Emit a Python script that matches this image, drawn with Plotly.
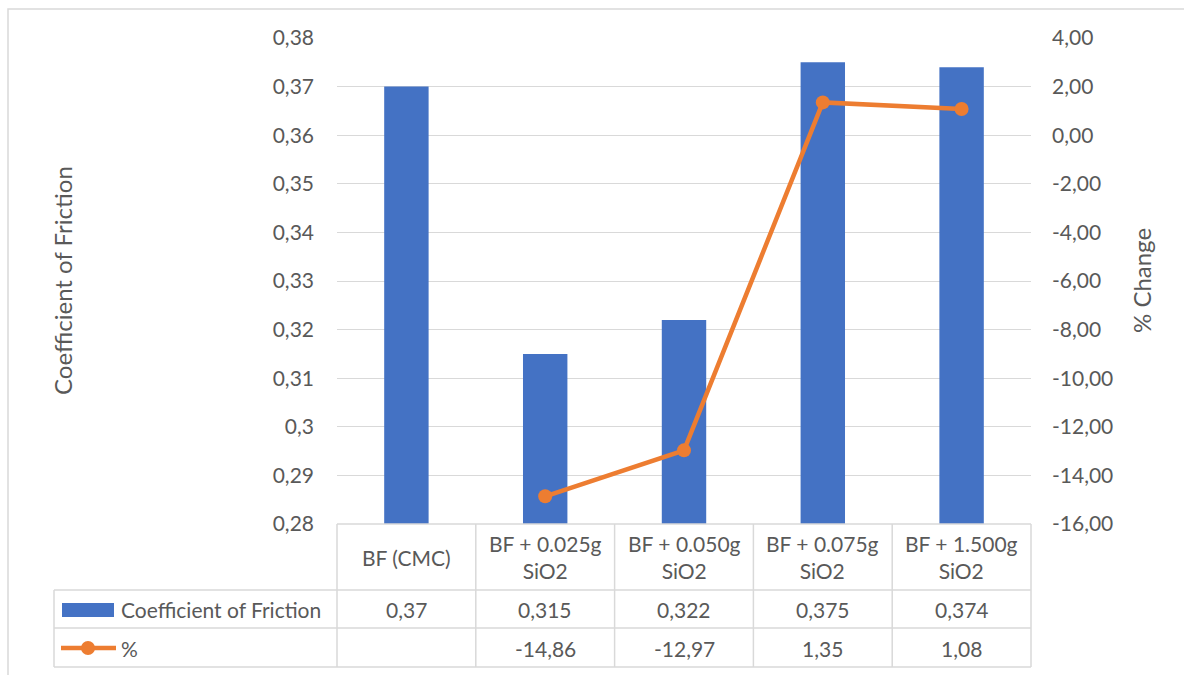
import plotly.graph_objects as go

categories = ["BF (CMC)", "BF + 0.025g SiO2", "BF + 0.050g SiO2", "BF + 0.075g SiO2", "BF + 1.500g SiO2"]
header_labels = ["BF (CMC)", "BF + 0.025g<br>SiO2", "BF + 0.050g<br>SiO2", "BF + 0.075g<br>SiO2", "BF + 1.500g<br>SiO2"]
cof = [0.37, 0.315, 0.322, 0.375, 0.374]
pct = [None, -14.86, -12.97, 1.35, 1.08]
left_ticks = [0.28, 0.29, 0.30, 0.31, 0.32, 0.33, 0.34, 0.35, 0.36, 0.37, 0.38]
right_ticks = [-16, -14, -12, -10, -8, -6, -4, -2, 0, 2, 4]

W, H = 1184, 675
L, R, T, B = 337, 1031, 38, 524
FONT = "Lato, Carlito, Calibri, sans-serif"
TXT = "#595959"
GRID = "#D9D9D9"
BLUE = "#4472C4"
ORANGE = "#ED7D31"
FS = 21


def px(x):
    return (x - L) / (R - L)


def py(y):
    return (B - y) / (B - T)


def fmt_left(v):
    s = ("%.2f" % v).rstrip("0").rstrip(".")
    return s.replace(".", ",")


fig = go.Figure()
fig.add_trace(go.Bar(x=categories, y=cof, marker=dict(color=BLUE, line=dict(width=0)),
                     width=0.32, name="Coefficient of Friction", yaxis="y"))
fig.add_trace(go.Scatter(x=categories, y=pct, mode="lines+markers", name="%",
                         line=dict(color=ORANGE, width=4.5),
                         marker=dict(color=ORANGE, size=14), yaxis="y2"))

fig.update_layout(
    width=W, height=H,
    margin=dict(l=L, r=W - R, t=T, b=H - B),
    paper_bgcolor="white", plot_bgcolor="white",
    showlegend=False,
    font=dict(family=FONT, size=FS, color=TXT),
    xaxis=dict(type="category", range=[-0.5, 4.5], showticklabels=False,
               showgrid=False, zeroline=False, showline=False, ticks=""),
    yaxis=dict(range=[0.28, 0.38], tickvals=left_ticks,
               ticktext=[fmt_left(v) for v in left_ticks],
               showgrid=True, gridcolor=GRID, gridwidth=1.3, zeroline=False,
               showline=False, ticks="", ticklabelstandoff=22,
               tickfont=dict(size=FS, color=TXT)),
    yaxis2=dict(range=[-16, 4], overlaying="y", side="right",
                tickvals=right_ticks,
                ticktext=[("%.2f" % v).replace(".", ",") for v in right_ticks],
                showgrid=False, zeroline=False, showline=False, ticks="",
                ticklabelstandoff=20, tickfont=dict(size=FS, color=TXT)),
)

shapes = []
line_style = dict(color=GRID, width=1.5)
# outer chart border
shapes.append(dict(type="rect", xref="paper", yref="paper",
                   x0=px(8), x1=px(1200), y0=py(9), y1=py(700),
                   line=dict(color=GRID, width=1.5), fillcolor="rgba(0,0,0,0)", layer="below"))
# table horizontal lines
shapes.append(dict(type="line", xref="paper", yref="paper", x0=px(L), x1=px(R), y0=py(B), y1=py(B), line=line_style))
for yy in [590, 628, 667]:
    shapes.append(dict(type="line", xref="paper", yref="paper", x0=px(54), x1=px(R), y0=py(yy), y1=py(yy), line=line_style))
# table vertical lines
shapes.append(dict(type="line", xref="paper", yref="paper", x0=px(54), x1=px(54), y0=py(590), y1=py(667), line=line_style))
for i in range(len(categories) + 1):
    xx = L + (R - L) * i / len(categories)
    shapes.append(dict(type="line", xref="paper", yref="paper", x0=px(xx), x1=px(xx), y0=py(B), y1=py(667), line=line_style))
# legend keys
shapes.append(dict(type="rect", xref="paper", yref="paper", x0=px(62), x1=px(114), y0=py(603), y1=py(617),
                   fillcolor=BLUE, line=dict(width=0)))
shapes.append(dict(type="line", xref="paper", yref="paper", x0=px(61), x1=px(116), y0=py(648), y1=py(648),
                   line=dict(color=ORANGE, width=4.5)))
shapes.append(dict(type="circle", xref="paper", yref="paper", x0=px(81), x1=px(95), y0=py(641), y1=py(655),
                   fillcolor=ORANGE, line=dict(width=0)))
fig.update_layout(shapes=shapes)

ann = []
base = dict(showarrow=False, xanchor="center", yanchor="middle", font=dict(size=FS, color=TXT))
for c, h in zip(categories, header_labels):
    ann.append(dict(base, x=c, xref="x", y=py(557), yref="paper", text=h, align="center"))
for c, v in zip(categories, cof):
    ann.append(dict(base, x=c, xref="x", y=py(609), yref="paper", text=str(v).replace(".", ",")))
for c, v in zip(categories, pct):
    if v is None:
        continue
    ann.append(dict(base, x=c, xref="x", y=py(648), yref="paper", text=("%.2f" % v).replace(".", ",")))
ann.append(dict(base, x=px(119), xref="paper", y=py(609), yref="paper", text="Coefficient of Friction",
                xanchor="left"))
ann.append(dict(base, x=px(119), xref="paper", y=py(648), yref="paper", text="%", xanchor="left"))
# axis titles
ann.append(dict(base, x=px(62), xref="paper", y=py(281), yref="paper", text="Coefficient of Friction",
                textangle=-90, font=dict(size=24, color=TXT)))
ann.append(dict(base, x=px(1141), xref="paper", y=py(281), yref="paper", text="% Change",
                textangle=-90, font=dict(size=24, color=TXT)))
fig.update_layout(annotations=ann)

fig.write_html("out.html")
